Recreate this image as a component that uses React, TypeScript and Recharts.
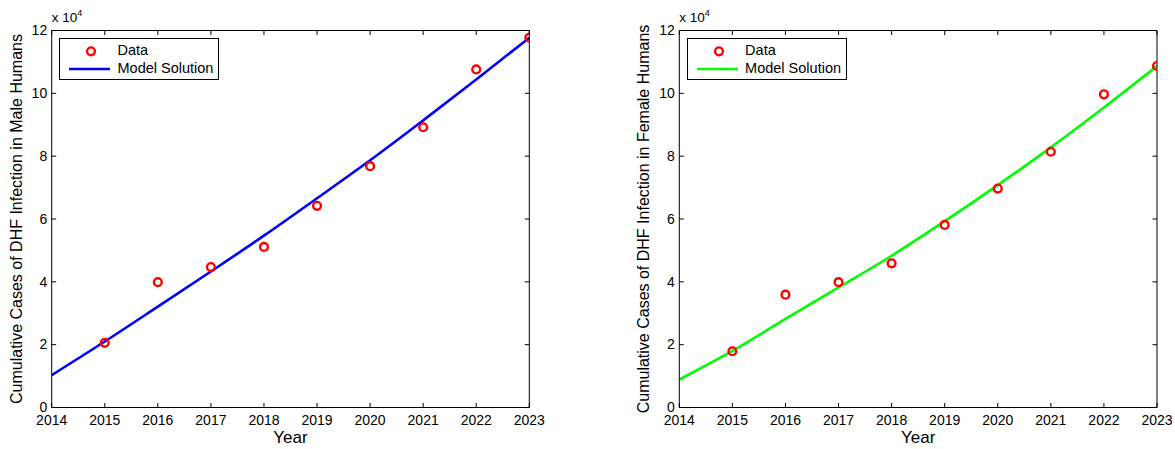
import React from "react";
import { ComposedChart, Line, Scatter, XAxis, YAxis } from "recharts";

const years = [2014, 2015, 2016, 2017, 2018, 2019, 2020, 2021, 2022, 2023];
const dataYears = [2015, 2016, 2017, 2018, 2019, 2020, 2021, 2022, 2023];
const yTicks = [0, 20000, 40000, 60000, 80000, 100000, 120000];

const maleData = [20600, 39900, 44700, 51100, 64200, 76800, 89200, 107600, 117700];
const maleModel = [10300, 21000, 32100, 43300, 54700, 66600, 78700, 91400, 104400, 117700];

const femaleData = [17900, 35900, 39900, 45900, 58100, 69700, 81400, 99700, 108700];
const femaleModel = [8900, 18000, 28200, 38200, 48300, 59300, 70800, 82800, 95500, 108700];

const FONT = "'Liberation Sans', Arial, Helvetica, sans-serif";
const TICK = 4.5;

const BottomTick = (p: any) => (
  <g>
    <line x1={p.x} x2={p.x} y1={p.y} y2={p.y - TICK} stroke="#000" strokeWidth={1} />
    <text x={p.x} y={p.y + 17.5} textAnchor="middle" fontSize={14} fontFamily={FONT} fill="#000">
      {p.payload.value}
    </text>
  </g>
);
const TopTick = (p: any) => (
  <line x1={p.x} x2={p.x} y1={p.y} y2={p.y + TICK} stroke="#000" strokeWidth={1} />
);
const LeftTick = (p: any) => (
  <g>
    <line x1={p.x} x2={p.x + TICK} y1={p.y} y2={p.y} stroke="#000" strokeWidth={1} />
    <text x={p.x - 4.5} y={p.y + 4.7} textAnchor="end" fontSize={14} fontFamily={FONT} fill="#000">
      {p.payload.value / 10000}
    </text>
  </g>
);
const RightTick = (p: any) => (
  <line x1={p.x} x2={p.x - TICK} y1={p.y} y2={p.y} stroke="#000" strokeWidth={1} />
);

const Marker = (p: any) => (
  <circle cx={p.cx} cy={p.cy} r={3.9} fill="none" stroke="#ff0000" strokeWidth={2.4} />
);

type PanelProps = {
  left: number;
  width: number;
  plotLeft: number;
  plotRight: number;
  dataVals: number[];
  modelVals: number[];
  color: string;
  ylabel: string;
};

const PLOT_TOP = 30.5;
const PLOT_BOTTOM = 407.5;
const H = 449;

function Panel({ left, width, plotLeft, plotRight, dataVals, modelVals, color, ylabel }: PanelProps) {
  const yAxisW = 52;
  const scatterRows = dataYears.map((y, i) => ({ year: y, value: dataVals[i] }));
  const lineRows = years.map((y, i) => ({ year: y, value: modelVals[i] }));
  const localLeft = plotLeft - left;
  const localRight = plotRight - left;
  const margin = {
    left: localLeft - yAxisW,
    right: width - localRight - 1,
    top: PLOT_TOP - 1,
    bottom: H - PLOT_BOTTOM - 30,
  };
  const midY = (PLOT_TOP + PLOT_BOTTOM) / 2;
  return (
    <div style={{ position: "absolute", left, top: 0, width, height: H }}>
      <ComposedChart width={width} height={H} margin={margin} data={lineRows}>
        <XAxis
          xAxisId="b"
          type="number"
          dataKey="year"
          domain={[2014, 2023]}
          ticks={years}
          interval={0}
          allowDataOverflow
          height={30}
          tickSize={0}
          tickMargin={0}
          tickLine={false}
          axisLine={{ stroke: "#000", strokeWidth: 1 }}
          tick={BottomTick}
        />
        <XAxis
          xAxisId="t"
          orientation="top"
          type="number"
          dataKey="year"
          domain={[2014, 2023]}
          ticks={years}
          interval={0}
          allowDataOverflow
          height={1}
          tickSize={0}
          tickMargin={0}
          tickLine={false}
          axisLine={{ stroke: "#000", strokeWidth: 1 }}
          tick={TopTick}
        />
        <YAxis
          yAxisId="l"
          type="number"
          domain={[0, 120000]}
          ticks={yTicks}
          interval={0}
          allowDataOverflow
          width={yAxisW}
          tickSize={0}
          tickMargin={0}
          tickLine={false}
          axisLine={{ stroke: "#000", strokeWidth: 1 }}
          tick={LeftTick}
        />
        <YAxis
          yAxisId="r"
          orientation="right"
          type="number"
          domain={[0, 120000]}
          ticks={yTicks}
          interval={0}
          allowDataOverflow
          width={1}
          tickSize={0}
          tickMargin={0}
          tickLine={false}
          axisLine={{ stroke: "#000", strokeWidth: 1 }}
          tick={RightTick}
        />
        <Scatter
          xAxisId="b"
          yAxisId="l"
          data={scatterRows}
          dataKey="value"
          shape={Marker}
          isAnimationActive={false}
        />
        <Line
          xAxisId="b"
          yAxisId="l"
          data={lineRows}
          dataKey="value"
          type="monotone"
          stroke={color}
          strokeWidth={2.6}
          dot={false}
          activeDot={false}
          isAnimationActive={false}
        />
      </ComposedChart>
      {/* exponent */}
      <div
        style={{
          position: "absolute",
          left: localLeft,
          top: 11,
          fontFamily: FONT,
          fontSize: 13.5,
          lineHeight: 1,
          whiteSpace: "nowrap",
        }}
      >
        x 10<sup style={{ fontSize: 9, verticalAlign: 0, position: "relative", top: -6 }}>4</sup>
      </div>
      {/* y label */}
      <div
        style={{
          position: "absolute",
          left: localLeft - 35,
          top: midY,
          width: 0,
          height: 0,
        }}
      >
        <div
          style={{
            position: "absolute",
            transform: "translate(-50%, -50%) rotate(-90deg)",
            fontFamily: FONT,
            fontSize: 16,
            whiteSpace: "nowrap",
            lineHeight: 1,
          }}
        >
          {ylabel}
        </div>
      </div>
      {/* x label */}
      <div
        style={{
          position: "absolute",
          left: (localLeft + localRight) / 2,
          top: 429,
          transform: "translateX(-50%)",
          fontFamily: FONT,
          fontSize: 17,
          lineHeight: 1,
          whiteSpace: "nowrap",
        }}
      >
        Year
      </div>
      {/* legend */}
      <div
        style={{
          position: "absolute",
          left: localLeft + 7.3,
          top: 37.7,
          width: 158,
          height: 40,
          border: "1px solid #000",
          background: "#fff",
          fontFamily: FONT,
          fontSize: 14.5,
        }}
      >
        <svg width={50} height={40} style={{ position: "absolute", left: 0, top: 0 }}>
          <circle cx={31} cy={12.3} r={3.9} fill="none" stroke="#ff0000" strokeWidth={2.4} />
          <line x1={9} x2={52} y1={30} y2={30} stroke={color} strokeWidth={2.6} />
        </svg>
        <div style={{ position: "absolute", left: 57.5, top: 4, lineHeight: 1 }}>Data</div>
        <div style={{ position: "absolute", left: 57.5, top: 22, lineHeight: 1 }}>Model Solution</div>
      </div>
    </div>
  );
}

export default function App() {
  return (
    <div
      style={{
        position: "absolute",
        left: 0,
        top: 0,
        width: 1175,
        height: 449,
        background: "#fff",
        overflow: "hidden",
      }}
    >
      <Panel
        left={0}
        width={575}
        plotLeft={51.7}
        plotRight={529.3}
        dataVals={maleData}
        modelVals={maleModel}
        color="#0000ff"
        ylabel="Cumulative Cases of DHF Infection in Male Humans"
      />
      <Panel
        left={600}
        width={575}
        plotLeft={679.3}
        plotRight={1157}
        dataVals={femaleData}
        modelVals={femaleModel}
        color="#00ff00"
        ylabel="Cumulative Cases of DHF Infection in Female Humans"
      />
    </div>
  );
}
